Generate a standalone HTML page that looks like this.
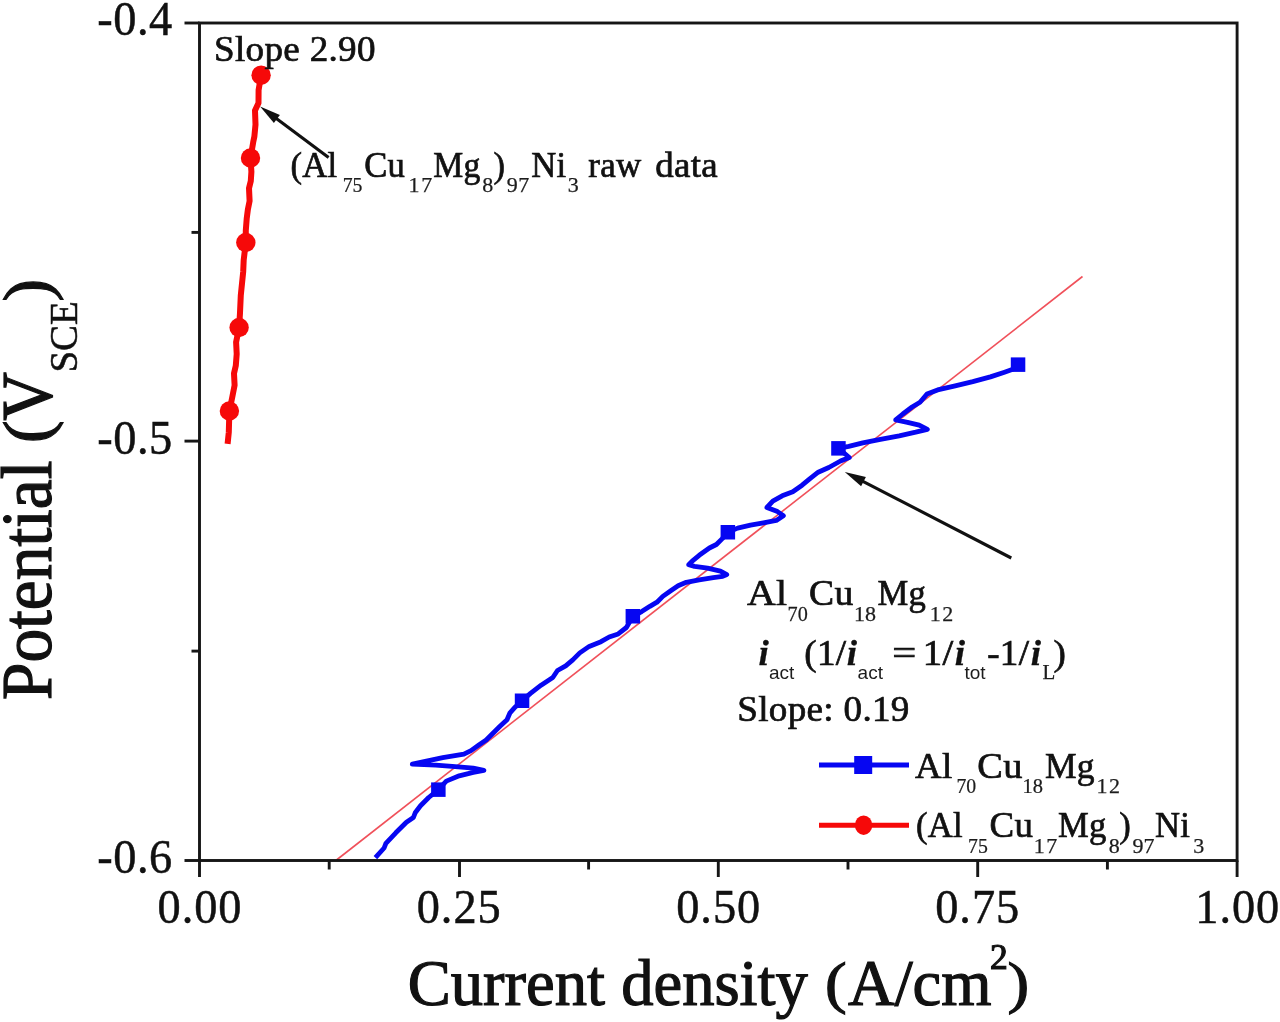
<!DOCTYPE html>
<html>
<head>
<meta charset="utf-8">
<title>Potential vs current density</title>
<style>
html,body{margin:0;padding:0;background:#fff;}
body{width:1280px;height:1022px;overflow:hidden;font-family:"Liberation Serif",serif;}
svg{display:block;position:absolute;left:0;top:0;will-change:transform;}
text{font-family:"Liberation Serif",serif;fill:#111;stroke:#111;stroke-width:0.5px;}
.tick{font-size:48px;letter-spacing:1px;stroke-width:0.9px;}
.title{stroke-width:1.2px;}
.ann{font-size:35.5px;letter-spacing:0.3px;stroke-width:0.7px;}
.bi{font-style:italic;font-weight:bold;font-size:35.5px;stroke-width:0.3px;}
.sub{font-size:22px;fill:#1c1c1c;stroke:#1c1c1c;stroke-width:0.25px;}
.lsub{font-size:21px;fill:#1c1c1c;stroke:#1c1c1c;stroke-width:0.25px;}
.ssub{font-size:19px;fill:#1c1c1c;stroke:none;font-family:"Liberation Sans",sans-serif;}
</style>
</head>
<body>
<svg width="1280" height="1022" viewBox="0 0 1280 1022">
<rect x="0" y="0" width="1280" height="1022" fill="#ffffff"/>

<!-- thin fit line -->
<line x1="336.5" y1="860" x2="1082.5" y2="276.5" stroke="#f0505a" stroke-width="1.6"/>
<!-- blue series -->
<path d="M375.4,857.6 L384.1,848 L385.9,843.3 L395.8,832.8 L406.4,822.2 L413.4,817.5 L415.2,812.8 L420.5,805.8 L428.7,797.5 L438.4,789.6 L446.3,781.1 L459.2,775.8 L473.3,772.3 L483.9,770.3 L473.3,768.2 L452.2,766.4 L435.8,765.2 L412.3,764.1 L426.4,761.1 L442.8,757.6 L463.9,754.1 L471,750.6 L479.2,744.7 L486.2,740 L500,726.3 L507,719.8 L510,712.8 L515.3,706.9 L522,700.7 L530.5,693.4 L541.1,685.2 L552.8,677.5 L557.5,670.5 L565.7,665.8 L572.8,659.9 L579.8,652.9 L589.2,646.4 L601,641.7 L609.2,637 L618.2,633.9 L626.4,627.5 L632.9,616.3 L641.7,611.6 L649.9,606.3 L657,602.2 L662.8,596.4 L671.1,590.5 L678.1,585.8 L686.3,582.3 L699.2,579.9 L713.3,577.6 L722.7,576.4 L726.8,574.6 L720.4,571.1 L707.5,568.2 L694.5,566.4 L688.7,564.7 L692.2,561.1 L699.2,555.3 L709.4,548 L716.4,544.5 L722.3,538.6 L727.9,532.2 L737.6,528.1 L750.5,525.1 L763.4,522.8 L776.3,520.4 L783.4,515.7 L777.5,511.6 L766.9,507.5 L772.8,501.1 L782.2,495.8 L792.8,491.7 L802.1,485.2 L810,478.6 L818.2,472.2 L828.8,467.5 L840.5,461 L849.3,457.5 L838.5,448.4 L848.7,446.3 L862.8,442.8 L880.4,439.3 L899.2,435.8 L915.7,432.2 L927.4,429.3 L919.2,425.2 L907.5,422.3 L895.7,419.9 L902.8,414 L912.1,407 L920,402.2 L927,394 L937.6,389.9 L955.2,385.8 L972.8,381.6 L990.4,376.9 L1004.5,372.2 L1012.8,369.3 L1018,364.6" fill="none" stroke="#0606f2" stroke-width="4.8" stroke-linejoin="round"/>
<g fill="#0606f2">
<rect x="431.1" y="782.4" width="14.5" height="14.5"/>
<rect x="514.8" y="693.5" width="14.5" height="14.5"/>
<rect x="625.6" y="609.0" width="14.5" height="14.5"/>
<rect x="720.6" y="525.0" width="14.5" height="14.5"/>
<rect x="831.2" y="441.1" width="14.5" height="14.5"/>
<rect x="1010.8" y="357.4" width="14.5" height="14.5"/>
</g>
<!-- red series -->
<path d="M261.1,75.2 L258.6,90 L258.5,103 L255,110.5 L255.5,124.6 L254.4,136.3 L253.2,142.2 L250.5,158 L251.4,171.7 L250.8,181 L249,188.2 L249.6,201 L247.9,209.3 L246.7,218.7 L245.8,230.4 L245.8,242.5 L243.7,260 L243.2,271.7 L242,283.5 L240.8,295.2 L240,312.8 L239.1,327.5 L236.1,342.2 L236.7,353.9 L235.8,365.7 L234,373.5 L234.6,385.2 L232.3,397 L229.4,411 L228.8,432.2 L227.6,443.9" fill="none" stroke="#f60909" stroke-width="6" stroke-linejoin="round"/>
<g fill="#f60909">
<circle cx="261.1" cy="75.2" r="9.7"/>
<circle cx="250.5" cy="158" r="9.7"/>
<circle cx="245.8" cy="242.5" r="9.7"/>
<circle cx="239.1" cy="327.5" r="9.7"/>
<circle cx="229.4" cy="411" r="9.7"/>
</g>
<!-- axes frame and ticks -->
<g stroke="#161616" stroke-width="2.9" fill="none">
<rect x="199.5" y="23.0" width="1037.6" height="837.5"/>
<line x1="184.5" y1="23.0" x2="199.5" y2="23.0"/>
<line x1="184.5" y1="441.1" x2="199.5" y2="441.1"/>
<line x1="184.5" y1="860.5" x2="199.5" y2="860.5"/>
<line x1="191.5" y1="232.4" x2="199.5" y2="232.4"/>
<line x1="191.5" y1="651.1" x2="199.5" y2="651.1"/>
<line x1="199.5" y1="860.5" x2="199.5" y2="877.0"/>
<line x1="459.5" y1="860.5" x2="459.5" y2="877.0"/>
<line x1="718.3" y1="860.5" x2="718.3" y2="877.0"/>
<line x1="977.7" y1="860.5" x2="977.7" y2="877.0"/>
<line x1="1237.1" y1="860.5" x2="1237.1" y2="877.0"/>
<line x1="329.2" y1="860.5" x2="329.2" y2="869.5"/>
<line x1="588.6" y1="860.5" x2="588.6" y2="869.5"/>
<line x1="848.0" y1="860.5" x2="848.0" y2="869.5"/>
<line x1="1107.4" y1="860.5" x2="1107.4" y2="869.5"/>
</g>
<!-- tick labels -->
<g class="tick">
<text transform="translate(172.6,35.2) scale(0.965,1)" text-anchor="end" letter-spacing="0.5">-0.4</text>
<text transform="translate(172.6,454.1) scale(0.965,1)" text-anchor="end" letter-spacing="0.5">-0.5</text>
<text transform="translate(172.6,872.7) scale(0.965,1)" text-anchor="end" letter-spacing="0.5">-0.6</text>
<text transform="translate(200.0,923.4) scale(0.965,1)" text-anchor="middle">0.00</text>
<text transform="translate(459.2,923.4) scale(0.965,1)" text-anchor="middle">0.25</text>
<text transform="translate(718.7,923.4) scale(0.965,1)" text-anchor="middle">0.50</text>
<text transform="translate(977.7,923.4) scale(0.965,1)" text-anchor="middle">0.75</text>
<text transform="translate(1237.8,923.4) scale(0.965,1)" text-anchor="middle">1.00</text>
</g>
<!-- axis titles -->
<text class="title" transform="translate(407.7,1005) scale(0.979,1)" font-size="66">Current density</text>
<text class="title" transform="translate(824.9,1002.4) scale(1.12,1)" font-size="58">(</text>
<text class="title" transform="translate(848,1005) scale(0.979,1)" font-size="66">A/cm</text>
<text class="title" x="990" y="968.9" font-size="35.5" stroke-width="0.7">2</text>
<text class="title" transform="translate(1007.4,1002.4) scale(1.12,1)" font-size="58">)</text>
<text class="title" transform="translate(50.7,700) rotate(-90) scale(0.9485,1)" font-size="71">Potential</text>
<text class="title" transform="translate(48.7,443.0) rotate(-90) scale(1.05,1)" font-size="64.5">(</text>
<text class="title" transform="translate(50.7,420.8) rotate(-90) scale(0.9485,1)" font-size="71">V</text>
<text transform="translate(76.7,372.6) rotate(-90)" font-size="39" stroke-width="0.7">SCE</text>
<text class="title" transform="translate(48.7,301.6) rotate(-90) scale(1.05,1)" font-size="64.5">)</text>
<!-- annotations -->
<text class="ann" transform="translate(214,60.6) scale(1.045,1)" letter-spacing="0.9">Slope 2.90</text>
<text class="ann" transform="translate(290.4,176.5) scale(0.975,1)">(Al</text>
<text class="sub" transform="translate(342.7,191.5) scale(0.9,1)">75</text>
<text class="ann" transform="translate(364.2,176.5) scale(0.975,1)">Cu</text>
<text class="sub" x="408.6" y="191.5" letter-spacing="1.6">17</text>
<text class="ann" transform="translate(433.3,176.5) scale(0.95,1)">Mg</text>
<text class="sub" x="482.2" y="191.5">8</text>
<text class="ann" transform="translate(493.4,176.5) scale(0.975,1)">)</text>
<text class="sub" x="506.7" y="191.5" letter-spacing="0.6">97</text>
<text class="ann" transform="translate(531.3,176.5) scale(0.975,1)">Ni</text>
<text class="sub" x="567.7" y="191.5">3</text>
<text class="ann" transform="translate(588.2,176.5) scale(0.985,1)">raw</text>
<text class="ann" transform="translate(655.2,176.5) scale(1.04,1)">data</text>
<text class="ann" transform="translate(747,605) scale(1.12,1)">Al</text>
<text class="sub" transform="translate(787.6,620.5) scale(0.92,1)">70</text>
<text class="ann" transform="translate(809,605) scale(1.06,1)">Cu</text>
<text class="sub" x="854" y="620.5">18</text>
<text class="ann" transform="translate(877.5,605) scale(0.975,1)">Mg</text>
<text class="sub" x="929.8" y="620.5" letter-spacing="1.5">12</text>
<text class="bi" transform="translate(758.5,664.5) scale(1.045,1)">i</text>
<text class="ssub" x="769" y="679.2">act</text>
<text class="ann" transform="translate(804.3,664.5) scale(1.045,1)">(1/</text>
<text class="bi" transform="translate(846.8,664.5) scale(1.045,1)">i</text>
<text class="ssub" x="857.6" y="679.2">act</text>
<text class="ann" transform="translate(892.2,664.5) scale(1.2,1)">=</text>
<text class="ann" transform="translate(922.8,664.5) scale(1.09,1)">1/</text>
<text class="bi" transform="translate(954.8,664.5) scale(1.045,1)">i</text>
<text class="ssub" x="964.5" y="679.2">tot</text>
<text class="ann" transform="translate(987.2,664.5) scale(1.045,1)">-1/</text>
<text class="bi" transform="translate(1030.7,664.5) scale(1.045,1)">i</text>
<text class="lsub" x="1042.5" y="679.2">L</text>
<text class="ann" transform="translate(1053.6,664.5) scale(1.045,1)">)</text>
<text class="ann" transform="translate(737.3,721.3) scale(1.045,1)" letter-spacing="0.9">Slope: 0.19</text>
<!-- arrows -->
<g stroke="#111" stroke-width="3.1" fill="#111">
<line x1="328.6" y1="157.5" x2="274" y2="116.8"/>
<polygon points="260.1,106.4 279.9,115 273.9,123" stroke="none"/>
<line x1="1011.3" y1="558" x2="860" y2="479.8"/>
<polygon points="844.8,472 865.9,477 861.1,486.2" stroke="none"/>
</g>
<!-- legend -->
<line x1="819" y1="765" x2="909" y2="765" stroke="#0606f2" stroke-width="5.1"/>
<rect x="854.2" y="756" width="18" height="18" fill="#0606f2"/>
<line x1="819" y1="825.3" x2="909" y2="825.3" stroke="#f60909" stroke-width="5.1"/>
<ellipse cx="863.6" cy="825.2" rx="8.7" ry="9.7" fill="#f60909"/>
<text class="ann" transform="translate(915,778.2) scale(1.04,1)">Al</text>
<text class="sub" transform="translate(956.4,793.3) scale(0.9,1)">70</text>
<text class="ann" transform="translate(977.3,778.2) scale(1.08,1)">Cu</text>
<text class="sub" transform="translate(1022.6,793.3) scale(0.93,1)">18</text>
<text class="ann" x="1045" y="778.2">Mg</text>
<text class="sub" x="1096.4" y="793.3" letter-spacing="1.7">12</text>
<text class="ann" transform="translate(916,837.1) scale(0.975,1)">(Al</text>
<text class="sub" transform="translate(968,852.6) scale(0.9,1)">75</text>
<text class="ann" transform="translate(989.5,837.1) scale(1.04,1)">Cu</text>
<text class="sub" x="1033.8" y="852.6" letter-spacing="1.4">17</text>
<text class="ann" transform="translate(1058,837.1) scale(0.975,1)">Mg</text>
<text class="sub" x="1108.8" y="852.6">8</text>
<text class="ann" transform="translate(1119.2,837.1) scale(0.975,1)">)</text>
<text class="sub" x="1132.5" y="852.6">97</text>
<text class="ann" transform="translate(1155,837.1) scale(0.975,1)">Ni</text>
<text class="sub" x="1193.3" y="852.6">3</text>
</svg>
</body>
</html>
